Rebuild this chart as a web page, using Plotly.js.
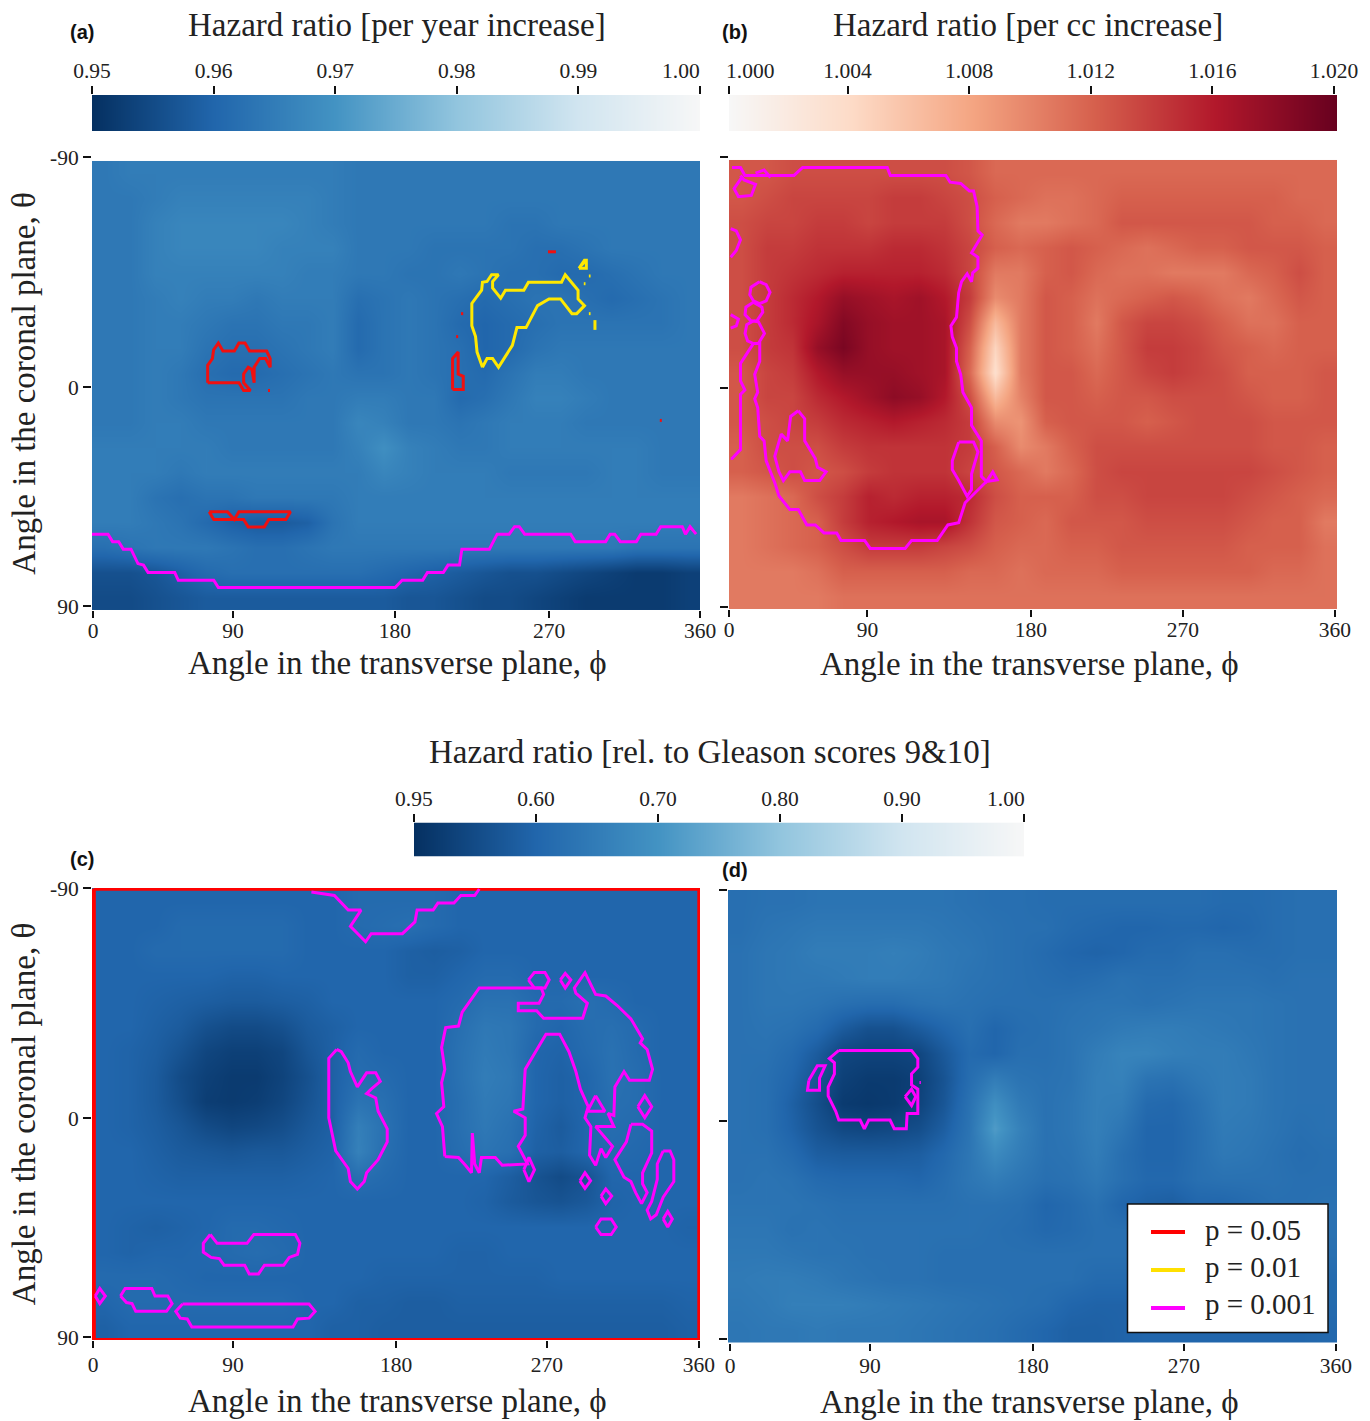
<!DOCTYPE html>
<html><head><meta charset="utf-8">
<script src="https://cdn.plot.ly/plotly-3.0.1.min.js"></script>
<style>html,body{margin:0;padding:0;background:#fff}#c{width:1370px;height:1421px}</style>
</head><body><div id="c"></div>
<script>
const phiEdges=[0,15,30,45,60,75,90,105,120,135,150,165,180,195,210,225,240,255,270,285,300,315,330,345,360];
const thetaEdges=[-90,-80,-70,-60,-50,-40,-30,-20,-10,0,10,20,30,40,50,60,70,80,90];

const zAge=[
[.964,.965,.965,.965,.965,.965,.965,.965,.965,.965,.964,.964,.964,.964,.964,.964,.964,.964,.964,.964,.964,.964,.964,.964],
[.964,.964,.965,.966,.966,.966,.966,.966,.966,.965,.964,.964,.964,.964,.964,.964,.964,.964,.964,.964,.964,.964,.964,.964],
[.964,.964,.966,.967,.967,.967,.967,.967,.966,.965,.964,.964,.964,.964,.964,.964,.963,.963,.964,.964,.964,.964,.964,.964],
[.964,.964,.966,.967,.967,.967,.967,.966,.966,.966,.964,.964,.964,.963,.963,.963,.963,.962,.962,.963,.964,.964,.964,.964],
[.964,.964,.966,.966,.966,.966,.966,.966,.965,.965,.964,.964,.963,.963,.964,.963,.962,.962,.961,.961,.962,.963,.964,.964],
[.964,.964,.965,.966,.965,.965,.964,.965,.965,.965,.962,.963,.964,.963,.962,.961,.962,.963,.963,.962,.961,.962,.963,.964],
[.964,.964,.965,.965,.964,.963,.963,.964,.964,.965,.961,.963,.964,.963,.961,.960,.961,.962,.963,.963,.963,.963,.963,.964],
[.964,.964,.965,.965,.963,.962,.962,.963,.964,.965,.961,.963,.964,.963,.962,.960,.961,.963,.964,.964,.964,.964,.964,.964],
[.964,.964,.965,.964,.962,.961,.961,.962,.963,.964,.963,.963,.964,.963,.962,.961,.963,.965,.965,.964,.964,.964,.964,.964],
[.964,.964,.965,.964,.963,.963,.963,.963,.964,.964,.965,.965,.964,.964,.961,.962,.964,.966,.966,.965,.964,.964,.964,.964],
[.964,.964,.965,.965,.964,.964,.964,.964,.964,.964,.967,.966,.964,.964,.963,.964,.965,.965,.965,.964,.964,.964,.964,.964],
[.965,.965,.965,.965,.965,.964,.964,.964,.964,.964,.966,.969,.966,.965,.964,.964,.965,.965,.965,.965,.965,.965,.964,.964],
[.965,.965,.965,.964,.965,.965,.965,.965,.965,.965,.965,.967,.966,.965,.965,.965,.964,.964,.964,.964,.965,.965,.964,.964],
[.965,.965,.963,.962,.963,.963,.964,.964,.964,.964,.965,.965,.965,.965,.965,.965,.965,.965,.965,.965,.965,.965,.965,.965],
[.965,.965,.964,.963,.961,.959,.958,.958,.959,.963,.965,.965,.965,.965,.965,.965,.965,.965,.965,.965,.965,.965,.965,.965],
[.962,.963,.964,.964,.964,.963,.962,.962,.963,.964,.964,.964,.964,.964,.964,.964,.964,.964,.964,.964,.964,.963,.963,.963],
[.956,.956,.957,.959,.961,.962,.962,.962,.962,.962,.962,.961,.960,.959,.958,.957,.956,.956,.955,.954,.953,.952,.952,.953],
[.955,.955,.956,.957,.958,.958,.958,.958,.958,.958,.958,.958,.957,.957,.956,.955,.955,.954,.953,.952,.952,.952,.952,.953]];

const zVolume=[
[1.0125,1.0125,1.013,1.013,1.013,1.013,1.013,1.013,1.013,1.0125,1.0115,1.0115,1.0115,1.0115,1.0115,1.0115,1.0115,1.0115,1.0115,1.0115,1.0115,1.0115,1.0115,1.0115],
[1.0125,1.013,1.0135,1.0135,1.0135,1.0135,1.014,1.014,1.0135,1.013,1.012,1.0115,1.011,1.011,1.0115,1.012,1.012,1.012,1.012,1.012,1.012,1.012,1.0115,1.0115],
[1.013,1.0135,1.0135,1.014,1.014,1.0135,1.014,1.014,1.014,1.013,1.0115,1.0105,1.0105,1.011,1.0115,1.0125,1.0125,1.0125,1.0125,1.0125,1.0125,1.012,1.012,1.0115],
[1.013,1.014,1.014,1.0145,1.0145,1.0145,1.015,1.015,1.0145,1.0135,1.012,1.0115,1.012,1.0125,1.012,1.0115,1.011,1.0115,1.012,1.012,1.0125,1.0125,1.0125,1.012],
[1.013,1.014,1.0145,1.015,1.0155,1.0155,1.0155,1.0155,1.015,1.0135,1.0105,1.0105,1.012,1.0125,1.0115,1.011,1.011,1.0105,1.0105,1.0105,1.0115,1.012,1.013,1.012],
[1.013,1.014,1.015,1.016,1.0175,1.017,1.0165,1.017,1.016,1.014,1.0095,1.0105,1.0125,1.012,1.011,1.0115,1.012,1.0125,1.012,1.011,1.0105,1.0115,1.0125,1.012],
[1.013,1.014,1.015,1.0165,1.0185,1.0175,1.017,1.017,1.0165,1.013,1.0065,1.0105,1.0125,1.012,1.0105,1.0125,1.0135,1.0135,1.013,1.012,1.011,1.011,1.012,1.012],
[1.013,1.014,1.0145,1.0175,1.019,1.0175,1.017,1.017,1.0165,1.012,1.0045,1.0105,1.0125,1.012,1.011,1.0125,1.014,1.014,1.0135,1.0125,1.012,1.0115,1.012,1.012],
[1.0125,1.0135,1.014,1.016,1.0175,1.0175,1.0175,1.017,1.0165,1.0115,1.0035,1.0105,1.0125,1.0125,1.0115,1.0125,1.0135,1.014,1.0135,1.013,1.012,1.012,1.012,1.0125],
[1.0125,1.0135,1.0135,1.015,1.016,1.017,1.018,1.0175,1.016,1.013,1.0065,1.01,1.0125,1.0125,1.012,1.0125,1.0125,1.013,1.013,1.013,1.0125,1.012,1.012,1.0125],
[1.0125,1.013,1.0135,1.014,1.015,1.0155,1.016,1.0155,1.015,1.014,1.0095,1.009,1.012,1.0125,1.0125,1.0125,1.012,1.0125,1.013,1.013,1.013,1.0125,1.0125,1.0125],
[1.012,1.013,1.013,1.013,1.014,1.0145,1.0145,1.0145,1.0145,1.014,1.012,1.0095,1.0105,1.012,1.013,1.013,1.013,1.013,1.013,1.013,1.013,1.0125,1.0125,1.012],
[1.012,1.0125,1.013,1.0125,1.013,1.014,1.0145,1.0145,1.0145,1.0135,1.0125,1.0115,1.0105,1.0115,1.013,1.0135,1.0135,1.0135,1.0135,1.0135,1.0135,1.013,1.0125,1.012],
[1.0105,1.011,1.0115,1.013,1.014,1.0155,1.015,1.0155,1.0155,1.015,1.013,1.012,1.012,1.012,1.013,1.013,1.0135,1.0135,1.0135,1.0135,1.013,1.0125,1.012,1.0115],
[1.0105,1.011,1.0115,1.012,1.014,1.0155,1.016,1.0165,1.0165,1.0145,1.0125,1.012,1.0115,1.0125,1.0125,1.0125,1.013,1.013,1.013,1.013,1.0125,1.012,1.012,1.0105],
[1.0105,1.011,1.0115,1.012,1.013,1.014,1.014,1.014,1.0135,1.013,1.012,1.0115,1.0115,1.012,1.012,1.0125,1.0125,1.0125,1.0125,1.0125,1.012,1.012,1.012,1.011],
[1.0105,1.0105,1.0105,1.011,1.012,1.012,1.012,1.012,1.012,1.0115,1.0115,1.011,1.0115,1.0115,1.0115,1.012,1.012,1.012,1.012,1.012,1.012,1.0115,1.0115,1.011],
[1.0105,1.0105,1.0105,1.0105,1.011,1.011,1.011,1.011,1.011,1.011,1.011,1.011,1.011,1.011,1.011,1.011,1.011,1.011,1.011,1.011,1.011,1.011,1.011,1.011]];

const zGleasonC=[
[.60,.60,.60,.60,.60,.60,.60,.60,.60,.60,.61,.61,.61,.61,.60,.60,.60,.60,.60,.60,.60,.60,.60,.60],
[.60,.60,.60,.61,.61,.61,.61,.61,.60,.60,.61,.615,.62,.61,.60,.60,.60,.60,.60,.60,.60,.60,.60,.60],
[.60,.60,.61,.61,.61,.61,.61,.61,.60,.60,.60,.60,.59,.585,.59,.60,.60,.60,.60,.60,.60,.60,.60,.60],
[.60,.60,.60,.60,.60,.595,.595,.60,.60,.60,.60,.60,.59,.59,.60,.61,.61,.60,.60,.60,.60,.60,.60,.60],
[.60,.60,.595,.59,.585,.58,.58,.585,.59,.60,.60,.60,.60,.60,.61,.625,.625,.61,.61,.62,.61,.60,.60,.60],
[.60,.60,.59,.58,.56,.55,.55,.56,.58,.59,.60,.60,.60,.60,.62,.64,.635,.61,.60,.615,.62,.61,.60,.60],
[.60,.595,.585,.565,.54,.53,.53,.54,.57,.59,.61,.60,.60,.60,.625,.645,.635,.60,.595,.61,.625,.61,.60,.60],
[.60,.595,.58,.55,.53,.52,.52,.535,.56,.59,.615,.61,.60,.60,.625,.65,.64,.60,.59,.60,.625,.615,.60,.60],
[.60,.595,.58,.555,.525,.52,.525,.54,.565,.59,.63,.62,.60,.60,.62,.645,.635,.60,.59,.60,.62,.615,.60,.60],
[.60,.595,.585,.57,.55,.54,.545,.555,.575,.59,.655,.625,.60,.60,.62,.64,.625,.595,.58,.60,.615,.61,.60,.60],
[.60,.60,.59,.58,.575,.57,.575,.575,.585,.595,.66,.62,.60,.60,.615,.63,.62,.59,.585,.60,.61,.605,.60,.60],
[.60,.60,.595,.59,.59,.59,.59,.59,.595,.60,.62,.61,.60,.60,.60,.60,.585,.565,.55,.565,.60,.60,.60,.60],
[.60,.60,.60,.60,.60,.60,.60,.60,.60,.60,.60,.60,.60,.60,.60,.595,.58,.57,.565,.575,.595,.60,.60,.60],
[.60,.595,.59,.595,.60,.61,.61,.605,.60,.60,.60,.60,.60,.60,.60,.60,.60,.60,.60,.60,.60,.60,.60,.595],
[.60,.595,.60,.60,.605,.61,.615,.61,.60,.60,.60,.60,.60,.60,.595,.595,.60,.60,.60,.60,.60,.60,.60,.60],
[.61,.61,.61,.605,.60,.60,.60,.60,.60,.60,.60,.595,.595,.595,.595,.595,.595,.595,.60,.60,.60,.60,.60,.60],
[.60,.61,.61,.61,.61,.61,.61,.61,.60,.60,.59,.59,.585,.585,.59,.59,.59,.59,.59,.59,.59,.59,.59,.595],
[.59,.60,.60,.60,.60,.60,.60,.60,.60,.59,.59,.585,.585,.585,.585,.585,.585,.585,.585,.585,.585,.585,.585,.59]];

const zGleasonD=[
[.62,.625,.625,.63,.63,.63,.63,.63,.63,.625,.62,.62,.615,.615,.615,.615,.615,.615,.615,.61,.61,.615,.62,.62],
[.62,.63,.635,.64,.64,.64,.64,.64,.635,.63,.625,.62,.62,.61,.605,.60,.60,.605,.605,.60,.605,.615,.62,.62],
[.625,.635,.64,.65,.65,.65,.655,.65,.64,.635,.625,.62,.61,.60,.595,.60,.61,.61,.62,.62,.615,.615,.62,.62],
[.625,.635,.64,.64,.645,.65,.65,.645,.64,.63,.625,.62,.615,.61,.615,.625,.62,.62,.625,.625,.625,.62,.625,.625],
[.625,.635,.635,.63,.62,.615,.615,.625,.63,.625,.62,.62,.62,.625,.63,.63,.625,.63,.635,.635,.635,.63,.625,.625],
[.625,.63,.625,.61,.58,.56,.56,.58,.60,.62,.60,.615,.62,.63,.635,.645,.65,.65,.645,.64,.635,.63,.625,.625],
[.625,.625,.61,.58,.54,.535,.535,.54,.575,.61,.60,.62,.62,.63,.65,.665,.665,.655,.65,.65,.64,.63,.625,.625],
[.625,.62,.60,.565,.53,.52,.52,.53,.565,.615,.65,.63,.625,.63,.655,.66,.63,.625,.64,.65,.645,.63,.625,.625],
[.625,.62,.59,.555,.52,.515,.52,.535,.57,.625,.69,.645,.625,.635,.655,.65,.61,.605,.625,.65,.645,.63,.625,.625],
[.625,.62,.595,.565,.545,.54,.545,.555,.585,.63,.715,.66,.625,.635,.655,.635,.60,.60,.62,.645,.64,.63,.62,.625],
[.625,.625,.61,.585,.58,.58,.58,.585,.605,.635,.68,.65,.625,.63,.65,.62,.60,.60,.62,.64,.635,.625,.615,.62],
[.625,.63,.625,.61,.605,.605,.605,.60,.615,.635,.65,.635,.62,.625,.64,.62,.605,.605,.62,.625,.625,.625,.62,.62],
[.63,.63,.63,.625,.62,.62,.62,.62,.62,.625,.625,.62,.60,.61,.625,.60,.59,.585,.60,.60,.61,.62,.62,.625],
[.635,.635,.625,.63,.625,.625,.625,.625,.625,.625,.62,.615,.605,.61,.62,.62,.62,.62,.62,.62,.62,.62,.625,.625],
[.64,.64,.635,.63,.63,.625,.625,.625,.62,.62,.62,.62,.62,.62,.62,.62,.62,.62,.62,.62,.62,.62,.62,.62],
[.645,.65,.65,.645,.635,.63,.625,.625,.62,.62,.62,.62,.62,.62,.61,.61,.61,.61,.61,.61,.61,.61,.61,.61],
[.64,.645,.655,.655,.655,.65,.645,.64,.635,.63,.625,.62,.615,.60,.595,.595,.60,.61,.61,.61,.61,.61,.61,.61],
[.635,.64,.64,.645,.64,.64,.64,.635,.63,.625,.62,.61,.60,.59,.59,.595,.60,.60,.60,.60,.60,.60,.60,.605]];

const barAgeVals=[.95,.96,.97,.98,.99,1.00];
const barVolumeVals=[1.000,1.004,1.008,1.012,1.016,1.020];
const barGleasonVals=[.50,.60,.70,.80,.90,1.00];
const barVolumeTicks=[1.0000,1.0039,1.0079,1.0119,1.0159,1.0199];
const barAgeText=['0.95','0.96','0.97','0.98','0.99',''];
const barVolumeText=['','1.004','1.008','1.012','1.016','1.020'];
const barGleasonText=['','0.60','0.70','0.80','0.90',''];
const phiTickText=['0','90','180','270','360'];
const thetaTickText=['-90','0','90'];

const blues=[[0,'#053061'],[.2,'#2166ac'],[.4,'#4393c3'],[.6,'#92c5de'],[.8,'#d1e5f0'],[1,'#f7f7f7']];
const reds=[[0,'#f7f7f7'],[.2,'#fddbc7'],[.4,'#f4a582'],[.6,'#d6604d'],[.8,'#b2182b'],[1,'#67001f']];

// panel (a) significance contours
const aP05=[
[[68.5,-1.1],[68.5,-8.1],[71.3,-10.8],[72,-14.3],[74.8,-17],[77.5,-13.8],[84.3,-13.8],[87,-17],[90.6,-17],[93.3,-13.8],[103.4,-13.8],[105.5,-10.8],[105.5,-7.3],[102.8,-10.8],[99.3,-10.8],[96,-7.3],[96,-1.1],[94.7,-6.4],[92.5,-7.3],[89.8,-4.6],[89.8,-1.1],[93.8,2],[89.8,2],[87,-1.1],[68.5,-1.1]],
[[69.4,50.6],[80.2,50.6],[84.3,53.7],[87,50.6],[117.5,50.6],[114.8,53.7],[104.7,53.7],[102,56.7],[92.5,56.7],[89.8,53.7],[72.1,53.7],[69.4,50.6]],
[[213.5,1.6],[213.5,-10.8],[216.8,-13.4],[216.8,-4.6],[219.8,-3.7],[219.8,1.6],[213.5,1.6]],
[[270,-53.6],[274.7,-53.6]],[[218.5,-28.8],[219.8,-28.8]],[[215.6,-19.6],[216.8,-19.6]],[[104.2,2],[105.4,2]],[[336.2,14],[337.4,14]]];
const aP01=[
[[231.2,-7.3],[228,-13.4],[227.1,-19.6],[224.9,-24],[224.9,-32.9],[230.7,-38.2],[231.2,-41.4],[233.9,-41.7],[236.6,-44.4],[240.7,-44.4],[237.2,-41.7],[237.2,-39.1],[242,-35],[244.8,-38.2],[255.7,-38.2],[258.4,-41.4],[278,-41.4],[280.2,-44.4],[287.8,-38.2],[287.8,-34.7],[291.6,-32],[287,-28.8],[284.2,-28.8],[277.4,-34.7],[270.6,-34.7],[263.8,-32],[257,-23.2],[251.6,-23.2],[248.9,-16.1],[240.7,-7.3],[237.2,-10.8],[233.9,-10.8],[231.2,-7.3]],
[[288.3,-47],[291.6,-50.2],[292.7,-50.2],[292.7,-47],[288.3,-47]],
[[289.5,-48],[291.8,-49.5]],
[[297.8,-26.2],[297.8,-22.3]],[[294.2,-43.9],[295.2,-43.9]],[[291.2,-40.8],[292.2,-40.8]],[[294.2,-28.8],[295.2,-28.8]]];
const aP001=[
[[0,59.6],[9.5,59.6],[12.2,62.6],[15.8,62.6],[18.5,65.6],[23.1,65.6],[27.2,71.4],[30.5,72],[33.2,75],[49,75],[51.1,78.1],[72.1,78.1],[74.8,81],[179.5,81],[183.6,78.1],[195.8,78.1],[198.6,75],[208,75],[210.8,72],[217.6,72],[219,65.6],[235.3,65.6],[239.9,59.6],[247,59.6],[250.2,56.6],[253,56.6],[256.2,59.6],[283.4,59.6],[286.1,62.6],[304.1,62.6],[306.8,59.6],[309.5,59.6],[312.8,62.6],[322.3,62.6],[325,59.6],[334,59.6],[336.7,56.6],[349.5,56.6],[351.4,59.6],[354.1,56.6],[357.7,59.6]]];

// panel (b) significance contours
const bP001=[
[[1.8,-87],[6.8,-87],[9.4,-83.8],[38.5,-83.8],[43.6,-87],[93.7,-87],[95.5,-83.8],[128.4,-83.8],[130.9,-81.1],[137.2,-80.6],[142.3,-77.6],[144.8,-77.6],[146.9,-71.4],[147.4,-61.6],[149.9,-59.9],[143.6,-52.8],[147.4,-51],[147.4,-46.6],[144.3,-44.8],[143.6,-41.2],[141,-44.4],[137.7,-41.2],[136,-36.8],[134.7,-27],[131.4,-23.5],[132.2,-19.1],[134.7,-14.6],[134.7,-9.3],[137.2,-4],[138.5,3.1],[143.6,9.3],[143.6,16.4],[149.4,22.6],[149.4,36.8],[152.4,38.9],[156.2,35],[158.8,38.2],[152.4,38.9],[139.8,47.4],[136,55.4],[129.6,56.3],[123.3,62.5],[108.1,62.5],[104.3,65.7],[83.6,65.7],[80.3,62.5],[66.3,62.5],[63.8,59.5],[56.2,59.5],[51.1,56.3],[46.1,56.3],[41,50.1],[36,50.1],[29.6,44.7],[27.1,39.4],[22,30.6],[20.8,22.6],[18.2,20.8],[17,9.3],[15.2,5.7],[17,3.1],[15.2,-4],[18.2,-9.3],[18.2,-16.4],[14.4,-16.4],[6.8,-8.4],[6.8,-1.4],[9.4,2.2],[6.8,4],[6.8,26.1],[1.8,29.7],[1,29.7]],
[[18,-41.2],[22,-40],[24.3,-37],[22,-33.5],[18,-32.4],[14.5,-33.5],[12.3,-36],[13,-39],[18,-41.2]],
[[14.4,-33],[19.5,-31],[20,-29],[16.5,-25.5],[13,-25.5],[9.5,-28],[10,-31],[14.4,-33]],
[[14.4,-25.5],[17.5,-25],[21,-20.5],[17.5,-16.5],[14.4,-16.4],[11,-17.5],[9.5,-20.5],[10.5,-24],[14.4,-25.5]],
[[1,-62.5],[4.3,-61.6],[6.8,-58],[4.3,-53.7],[1,-51]],
[[1,-28],[5.6,-26.2],[4.3,-23.5],[1,-22.6]],
[[6.8,-83.8],[8.9,-82],[15.7,-80.2],[13.2,-75.8],[5.6,-75.3],[3,-78.5],[7.6,-83]],
[[15.7,-84.7],[20.8,-86],[24.6,-83]],
[[41,10.5],[44.8,13.7],[44.8,22.6],[51.1,29.7],[52.4,33.2],[57.5,35],[53.7,38.5],[44.8,38.5],[42.3,35],[36,35],[32.2,38.5],[29.6,35],[27.1,28.8],[30.9,19.9],[34.7,22.6],[36.5,12.8],[41,10.5]],
[[136,23.1],[144.8,23.1],[147.4,27],[143.6,35.9],[143.6,42.1],[141,44.8],[136,38.5],[132.2,34.1],[132.2,30.6],[136,23.1]]];

// panel (c) significance contours
const cP05=[[[1.07,-89.7],[359.6,-89.7],[359.6,90],[1.07,90],[1.07,-89.7]]];
const cP001=[
[[129.9,-88.4],[143.5,-87],[151.7,-81.2],[159.3,-81.2],[153,-74.7],[162,-68.6],[165.3,-71.8],[183.8,-71.8],[191.2,-76.5],[192.5,-81.2],[202,-81.2],[204.8,-84],[214.3,-84],[218.4,-87],[226.6,-87],[229.3,-89.6]],
[[208.9,16.9],[207.5,5],[204,-0.2],[208.3,-2.9],[207,-12.5],[208.9,-17.8],[207,-26.5],[209.4,-34.4],[217,-35],[219.2,-40.6],[229.3,-50.2],[266,-50.2],[267.4,-47.6],[264.7,-44.1],[252.4,-44.1],[252.4,-41.1],[263.3,-41.1],[267.4,-38.1],[290.5,-38.1],[293.3,-44.1],[286.5,-48.1],[285.6,-50.2],[291.9,-56.3],[298.2,-47.6],[304.2,-47],[311,-43.2],[319.1,-37.9],[326,-30],[324.6,-28.3],[328.7,-25.7],[331.9,-17.8],[330,-13.4],[318.3,-13.4],[315,-16.9],[309.6,-10.8],[309,0.6],[305.5,-0.2],[309,5],[298.2,5],[308.2,12.9],[304.2,17.3],[301.4,13.8],[298.2,20.4],[294.6,16.4],[295.4,5],[291.9,1.5],[293.8,-2.9],[289.2,-9.9],[286.5,-16.9],[282.4,-24.8],[276.9,-31.8],[268.8,-31.8],[256.5,-17.8],[255.1,-2],[249.7,-1.1],[256.5,1.5],[256.5,8.5],[252.4,12.9],[257.9,19.9],[242.9,20.4],[238.8,17.3],[230.6,17.3],[229.3,23.4],[226.6,19.9],[225.2,7.6],[224.7,23.4],[221.1,20.4],[217,17.3],[208.9,16.9]],
[[298.2,-7.3],[303.7,-1.1],[293.3,-1.1],[298.2,-7.3]],
[[258.4,-53.4],[261.9,-56.3],[268.2,-56.3],[270.7,-53.4],[268.2,-50.2],[261.9,-50.2],[258.4,-53.4]],
[[277.3,-53.4],[280.2,-56],[283.5,-53.4],[280.2,-50.2],[277.3,-53.4]],
[[144.9,-25.7],[140.2,-22.2],[140.2,1.5],[144.3,14.7],[151.7,21.7],[153,26.9],[157.1,29.9],[161.2,26.9],[162.6,23.4],[169.4,18.2],[174.8,11.1],[174.8,5.9],[169.4,-1.1],[168,-6.4],[162.6,-8.1],[165.3,-9.9],[170.7,-13],[168,-16.4],[162.6,-16.4],[157.1,-10.8],[153,-16.9],[151.7,-20.4],[147.6,-24.8],[144.9,-25.7]],
[[323.2,-2.9],[327.3,-7.3],[331.4,-2.9],[327.3,1.5],[323.2,-2.9]],
[[255.7,22.2],[258.7,17.3],[262,22.2],[258.7,26.9],[255.7,22.2]],
[[288.9,26.6],[291.9,23.4],[295.2,26.6],[291.9,29.6],[288.9,26.6]],
[[301.4,32.7],[304.2,29.9],[307.7,32.7],[304.2,35.7],[301.4,32.7]],
[[298.2,45],[301.4,41.8],[307.4,41.8],[310.4,45],[307.4,48],[301.4,48],[298.2,45]],
[[338.2,41.8],[340.9,38.8],[343.6,41.8],[340.9,45],[338.2,41.8]],
[[319.1,4.1],[326,4.1],[331.4,6.8],[331.4,15.5],[326,23.4],[326,27.8],[328.7,31.3],[325.4,35.7],[321.9,31.3],[319.1,26.9],[315,25.2],[309.6,18.2],[316.4,11.1],[319.1,4.1]],
[[338.2,14.7],[342.3,14.7],[344.5,18.2],[344.5,26.9],[338.2,33.1],[334.1,40.1],[330.8,41.8],[328.7,38.3],[331.4,34.8],[334.7,26],[334.7,19.9],[338.2,14.7]],
[[70,48],[65.9,51.5],[65.9,55],[70.5,57.1],[75.4,57.6],[78.2,60.2],[90.4,60.2],[93.1,63.7],[98.6,63.7],[102.1,60.2],[113.5,60.2],[116.8,57.1],[121.7,55.9],[123.1,51.5],[120.4,48],[95.8,48],[91.8,51.5],[74.1,51.5],[70,48]],
[[1.9,72.5],[4.6,69.5],[7.9,72.5],[4.6,75.5],[1.9,72.5]],
[[16.9,72.5],[19.6,69.5],[35.4,69.5],[37.3,72.5],[44.9,72.5],[47.4,75.5],[44.1,78.6],[25.9,78.6],[23.7,75.5],[20.4,75.1],[16.9,72.5]],
[[53.6,75.7],[128.5,75.7],[132.1,78.6],[128.5,81.3],[121.7,81.6],[119,84.8],[59.1,84.8],[56.4,81.6],[52.3,81.3],[49.6,78.6],[53.6,75.7]]];

// panel (d) significance contours
const dP001=[
[[65.5,-26.2],[108.5,-26.2],[112.2,-23],[112.2,-19.5],[108.5,-16.9],[108.5,-12.5],[112.2,-10.8],[112.2,-1.1],[105.9,-1.1],[105.4,5],[98.3,5],[95.8,1.5],[83.2,1.5],[80.6,5],[78.1,1.5],[65.5,1.5],[63.7,-2],[59.2,-8.1],[59.2,-11.6],[62.9,-16.9],[62.9,-21.3],[59.9,-23],[65.5,-26.2]],
[[104.7,-7.8],[108.5,-10.8],[111,-7.8],[108.5,-4.3],[104.7,-7.8]],
[[47.8,-14.3],[52.8,-20.1],[57.4,-20.1],[54.1,-15.2],[54.1,-10.4],[47,-10.4],[47.8,-14.3]],
[[113.2,-13.4],[114,-13.4]]];

const legendNames=['p = 0.05','p = 0.01','p = 0.001'];
const legendColors=['#ff0000','#ffe000','#ff00ff'];
const RED='#f01010',YEL='#ffe800',MAG='#ff00ff';
const W=1370,H=1421;
const fx=p=>p/W, fy=p=>1-p/H;
const SERIF='"Liberation Serif",serif';
const TICK=21.5, TITLE=33;
const XTITLE='Angle in the transverse plane, ϕ';

function lineTrace(polys,color,ax,width){
  const x=[],y=[];
  polys.forEach(p=>{p.forEach(q=>{x.push(q[0]);y.push(q[1]);});x.push(null);y.push(null);});
  return {type:'scatter',mode:'lines',x,y,xaxis:'x'+ax,yaxis:'y'+ax,showlegend:false,hoverinfo:'skip',cliponaxis:false,
    line:{color,width:width||3,shape:'linear'}};
}
function heat(z,ax,scale,zmin,zmax){
  return {type:'heatmap',z,x:phiEdges,y:thetaEdges,xaxis:'x'+ax,yaxis:'y'+ax,colorscale:scale,zmin,zmax,zsmooth:'best',showscale:false,hoverinfo:'skip'};
}
function bar(vals,ax,scale){
  return {type:'heatmap',z:[vals,vals],x:vals,y:[0,1],xaxis:'x'+ax,yaxis:'y'+ax,colorscale:scale,zmin:vals[0],zmax:vals[vals.length-1],zsmooth:'best',showscale:false,hoverinfo:'skip'};
}
const traces=[
  heat(zAge,'',blues,.95,1),heat(zVolume,'2',reds,1,1.02),heat(zGleasonC,'3',blues,.5,1),heat(zGleasonD,'4',blues,.5,1),
  bar(barAgeVals,'5',blues),bar(barVolumeVals,'6',reds),bar(barGleasonVals,'7',blues),
  lineTrace(aP05,RED,''),lineTrace(aP01,YEL,''),lineTrace(aP001,MAG,''),
  lineTrace(bP001,MAG,'2'),
  lineTrace(cP05,'#ff0000','3',4),lineTrace(cP001,MAG,'3'),
  lineTrace(dP001,MAG,'4'),
];

function xAx(l,r,anchor,vals,shift){
  return {domain:[fx(l),fx(r)],range:[0,360],anchor,tickmode:'array',tickvals:vals,ticktext:phiTickText,ticks:'outside',ticklen:7,tickwidth:2,tickcolor:'#111',
    ticklabelstandoff:shift,showgrid:false,zeroline:false,showline:false,tickangle:0,automargin:false,tickfont:{family:SERIF,size:TICK,color:'#222'}};
}
function yAx(t,b,top,anchor,vals,showLabels){
  const a={domain:[fy(b),fy(t)],range:[90,top],anchor,tickmode:'array',tickvals:vals,ticktext:thetaTickText,ticks:'outside',ticklen:8,tickwidth:2,tickcolor:'#111',
    showgrid:false,zeroline:false,showline:false,automargin:false,showticklabels:showLabels,tickfont:{family:SERIF,size:TICK,color:'#222'}};
  if(showLabels) a.title={text:'Angle in the coronal plane, θ',font:{family:SERIF,size:TITLE,color:'#222'},standoff:4};
  return a;
}
function barX(l,r,anchor,range,vals,text){
  return {domain:[fx(l),fx(r)],range,anchor,side:'top',tickmode:'array',tickvals:vals,ticktext:text,ticks:'outside',ticklen:8,tickwidth:2,tickcolor:'#111',
    ticklabelstandoff:-1,showgrid:false,zeroline:false,showline:false,automargin:false,tickfont:{family:SERIF,size:TICK,color:'#222'}};
}
function barY(t,b,anchor){
  return {domain:[fy(b),fy(t)],range:[0,1],anchor,visible:false,showgrid:false,zeroline:false};
}
function note(text,px,py,size,family,color,anchor){
  return {text,xref:'paper',yref:'paper',x:fx(px),y:fy(py),xanchor:anchor||'center',yanchor:'middle',showarrow:false,borderpad:0,font:{family:family||SERIF,size:size,color:color||'#222'}};
}
const SANS='"Liberation Sans",sans-serif';
const legendRows=[[1230,1232],[1267,1270],[1304,1308]];
const legendShapes=[{type:'rect',xref:'paper',yref:'paper',x0:fx(1127.5),x1:fx(1328),y0:fy(1204),y1:fy(1332.5),fillcolor:'#fff',line:{color:'#111',width:1.5},layer:'above'}];
legendRows.forEach((r,i)=>legendShapes.push({type:'line',xref:'paper',yref:'paper',x0:fx(1151),x1:fx(1185),y0:fy(r[1]),y1:fy(r[1]),line:{color:legendColors[i],width:4},layer:'above'}));
const layout={
  width:W,height:H,margin:{l:0,r:0,t:0,b:0},paper_bgcolor:'#fff',plot_bgcolor:'#fff',showlegend:false,
  xaxis:xAx(92,700,'y',[0.6,83.5,179.4,270.6,360],-6),
  yaxis:yAx(157,610,-91.6,'x',[-91.6,0.6,88.4],true),
  xaxis2:xAx(729,1337,'y2',[0,82,178.8,268.8,358.8],-6),
  yaxis2:yAx(157,609,-91.2,'x2',[-91.2,1.4,89.2],false),
  xaxis3:xAx(92,700,'y3',[0.6,83.5,180,269.4,359.4],-2),
  yaxis3:yAx(888,1340,-90,'x3',[-90,1.6,88.8],true),
  xaxis4:xAx(728,1337,'y4',[1.2,83.9,180,269.5,359.4],-3),
  yaxis4:yAx(889.5,1342.6,-90.2,'x4',[-90.2,1.7,88.6],false),
  xaxis5:barX(92,700,'y5',[.95,1],barAgeVals,barAgeText),yaxis5:barY(95,131,'x5'),
  xaxis6:barX(729,1337,'y6',[1,1.02],barVolumeTicks,barVolumeText),yaxis6:barY(95,131,'x6'),
  xaxis7:barX(414,1024,'y7',[.5,1],barGleasonVals,barGleasonText),yaxis7:barY(822.5,856.5,'x7'),
  shapes:legendShapes,
  annotations:[
    note('Hazard ratio [per year increase]',397,25,TITLE),
    note('Hazard ratio [per cc increase]',1028,25,TITLE),
    note('Hazard ratio [rel. to Gleason scores 9&amp;10]',710,752,TITLE),
    note(XTITLE,397,663,TITLE),note(XTITLE,1029,664,TITLE),note(XTITLE,397,1401,TITLE),note(XTITLE,1029,1402,TITLE),
    note('1.00',681,71,TICK),note('1.000',750,71,TICK),note('0.95',414,799,TICK),note('1.00',1005.5,799,TICK),
    note('<b>(a)</b>',69,32,20,SANS,'#111','left'),
    note('<b>(b)</b>',721,32,20,SANS,'#111','left'),
    note('<b>(c)</b>',69,859,20,SANS,'#111','left'),
    note('<b>(d)</b>',721,870,20,SANS,'#111','left'),
    ...legendNames.map((n,i)=>note(n,1204,legendRows[i][0],29,SERIF,'#222','left'))
  ]
};
Plotly.newPlot('c',traces,layout,{displayModeBar:false,responsive:false});
</script></body></html>
